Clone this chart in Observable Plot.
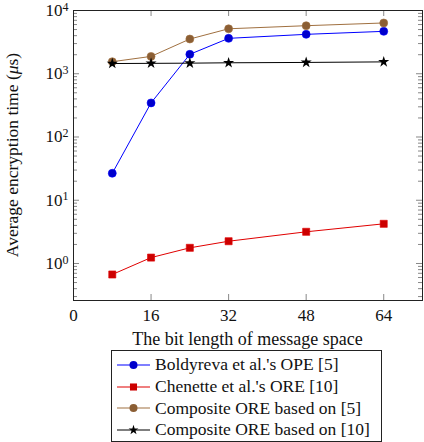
<!DOCTYPE html>
<html><head><meta charset="utf-8">
<script src="https://cdn.jsdelivr.net/npm/d3@7"></script>
<script src="https://cdn.jsdelivr.net/npm/@observablehq/plot@0.6"></script>
<style>
body{margin:0;background:#fff;font-family:"Liberation Serif","Times New Roman",serif;}
#legend{margin-left:111px;width:269px;border:1px solid #222;padding:3px 0 0 0;box-sizing:content-box;}
.row{height:21.7px;display:flex;align-items:center;font-size:17.5px;color:#111;white-space:nowrap;}
.row svg{margin-left:5px;margin-right:5px;flex:none;}
.row span{white-space:nowrap;flex:none;}
</style></head>
<body>
<div id="chart"></div>
<div id="legend"></div>
<script>
const bits = [8, 16, 24, 32, 48, 64];
const boldyreva = [26.7, 346, 2030, 3630, 4200, 4680];
const chenette = [0.67, 1.24, 1.77, 2.25, 3.17, 4.24];
const compositeB = [1550, 1880, 3540, 5140, 5750, 6350];
const compositeC = [1450, 1460, 1470, 1490, 1510, 1540];
const seriesNames = ["Boldyreva et al.'s OPE [5]", "Chenette et al.'s ORE [10]", "Composite ORE based on [5]", "Composite ORE based on [10]"];
const lineColors = ["#0000ff", "#e00000", "#a07040", "#000000"];
const markColors = ["#0000cc", "#cc0000", "#8b5e34", "#000000"];
const markSymbols = ["circle", "square", "circle", "star"];
const xTicks = [0, 16, 32, 48, 64];
const yMajor = [1, 10, 100, 1000, 10000];
const yMinor = [];
for (const d of [0.1, 1, 10, 100, 1000]) for (let k = 2; k <= 9; k++) { const v = +(d * k).toPrecision(3); if (v >= 0.26) yMinor.push(v); }
const xLabel = "The bit length of message space";

const allSeries = [boldyreva, chenette, compositeB, compositeC];
const rows = [];
allSeries.forEach((vals, i) => vals.forEach((v, j) => rows.push({series: seriesNames[i], idx: i, x: bits[j], y: v})));

const W = 424, H = 350, mL = 73, mR = 2, mT = 10, mB = 50;
const iw = W - mL - mR, ih = H - mT - mB;
const tickColor = "#888";
const FF = "Liberation Serif";

const marks = [];
marks.push(Plot.tickX(xTicks, {x: d => d, insetTop: ih - 6, stroke: tickColor, strokeWidth: 1}));
marks.push(Plot.tickX(xTicks, {x: d => d, insetBottom: ih - 6, stroke: tickColor, strokeWidth: 1}));
marks.push(Plot.tickY(yMajor, {y: d => d, insetRight: iw - 6, stroke: tickColor}));
marks.push(Plot.tickY(yMajor, {y: d => d, insetLeft: iw - 6, stroke: tickColor}));
marks.push(Plot.tickY(yMinor, {y: d => d, insetRight: iw - 4, stroke: tickColor}));
marks.push(Plot.tickY(yMinor, {y: d => d, insetLeft: iw - 4, stroke: tickColor}));
marks.push(Plot.frame({stroke: "#222", strokeWidth: 1}));
marks.push(Plot.axisX(xTicks, {anchor: "bottom", tickSize: 0, tickPadding: 8, fontSize: 17, fontFamily: FF, label: null, tickFormat: d => String(d)}));
marks.push(Plot.axisY(yMajor, {anchor: "left", tickSize: 0, tickPadding: 5, fontSize: 17, fontFamily: FF, label: null, tickFormat: d => "10^" + Math.round(Math.log10(d))}));
seriesNames.forEach((name, i) => {
  const data = rows.filter(r => r.idx === i);
  marks.push(Plot.line(data, {x: "x", y: "y", stroke: lineColors[i], strokeWidth: 1}));
  marks.push(Plot.dot(data, {x: "x", y: "y", symbol: markSymbols[i], fill: markColors[i], stroke: i === 3 ? "none" : lineColors[i], strokeWidth: 0.6, r: i === 3 ? 3.5 : 4}));
});

const chart = Plot.plot({
  width: W, height: H, marginLeft: mL, marginRight: mR, marginTop: mT, marginBottom: mB,
  style: {background: "#fff", color: "#111"},
  x: {domain: [0, 72], axis: null},
  y: {type: "log", domain: [0.26, 10000], axis: null},
  marks
});
document.getElementById("chart").appendChild(chart);

d3.select(chart).selectAll('[aria-label="y-axis tick label"] text').each(function() {
  const t = d3.select(this);
  const parts = t.text().split("^");
  if (parts.length === 2) {
    t.text(parts[0]);
    t.append("tspan").attr("dy", "-0.45em").attr("font-size", "12px").text(parts[1]);
  }
});
const svg = d3.select(chart);
svg.append("text").attr("x", mL + iw / 2).attr("y", H - 5).attr("text-anchor", "middle")
  .attr("font-family", FF).attr("font-size", "18px").attr("fill", "#111").text(xLabel);
const yt = svg.append("text").attr("transform", `translate(18,${mT + ih / 2}) rotate(-90)`)
  .attr("font-family", FF).attr("text-anchor", "middle").attr("font-size", "17.5px").attr("fill", "#111");
yt.append("tspan").text("Average encryption time (");
yt.append("tspan").attr("font-style", "italic").text("μ");
yt.append("tspan").text("s)");

const leg = d3.select("#legend");
seriesNames.forEach((name, i) => {
  const row = leg.append("div").attr("class", "row");
  const s = row.append("svg").attr("width", 33).attr("height", 12);
  s.append("line").attr("x1", 0).attr("x2", 33).attr("y1", 6).attr("y2", 6).attr("stroke", lineColors[i]).attr("stroke-width", 1.2);
  const sym = d3.symbol().type(markSymbols[i] === "circle" ? d3.symbolCircle : markSymbols[i] === "square" ? d3.symbolSquare : d3.symbolStar)
    .size(markSymbols[i] === "star" ? 30 : 50);
  s.append("path").attr("d", sym()).attr("transform", "translate(16.5,6)").attr("fill", markColors[i]);
  row.append("span").text(name);
});
</script>
</body></html>
